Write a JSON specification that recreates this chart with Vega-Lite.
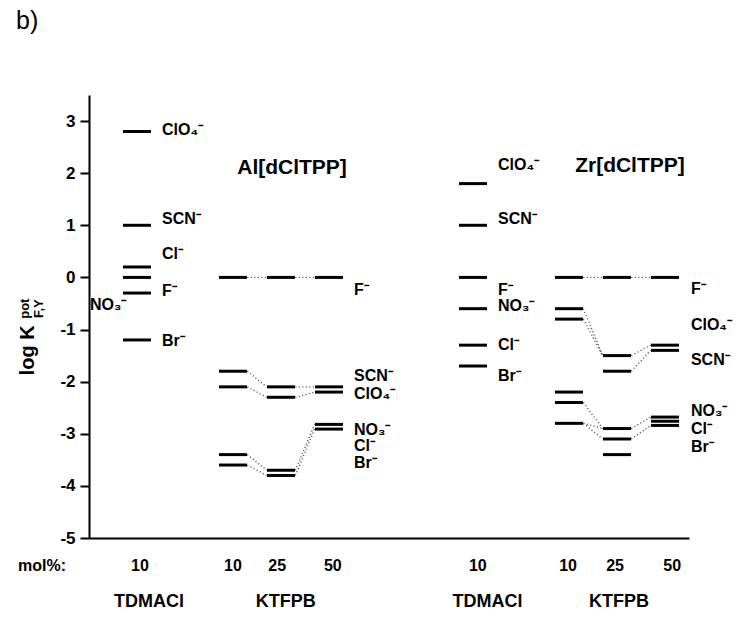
{
  "$schema": "https://vega.github.io/schema/vega-lite/v6.json",
  "autosize": "none",
  "width": 600,
  "height": 443,
  "padding": {"left": 89, "top": 95, "right": 61, "bottom": 82},
  "background": "white",
  "config": {"view": {"stroke": null}, "font": "Liberation Sans"},
  "datasets": {
    "bars": [
      {"panel": "Al", "col": "TDMACl 10", "x": 1, "y": 2.8, "ion": "ClO4"},
      {"panel": "Al", "col": "TDMACl 10", "x": 1, "y": 1.0, "ion": "SCN"},
      {"panel": "Al", "col": "TDMACl 10", "x": 1, "y": 0.2, "ion": "Cl"},
      {"panel": "Al", "col": "TDMACl 10", "x": 1, "y": 0.0, "ion": "F"},
      {"panel": "Al", "col": "TDMACl 10", "x": 1, "y": -0.3, "ion": "NO3"},
      {"panel": "Al", "col": "TDMACl 10", "x": 1, "y": -1.2, "ion": "Br"},
      {"panel": "Al", "col": "KTFPB 10", "x": 3, "y": 0.0, "ion": "F"},
      {"panel": "Al", "col": "KTFPB 10", "x": 3, "y": -1.8, "ion": "SCN"},
      {"panel": "Al", "col": "KTFPB 10", "x": 3, "y": -2.1, "ion": "ClO4"},
      {"panel": "Al", "col": "KTFPB 10", "x": 3, "y": -3.4, "ion": "NO3"},
      {"panel": "Al", "col": "KTFPB 10", "x": 3, "y": -3.6, "ion": "Cl/Br"},
      {"panel": "Al", "col": "KTFPB 25", "x": 4, "y": 0.0, "ion": "F"},
      {"panel": "Al", "col": "KTFPB 25", "x": 4, "y": -2.1, "ion": "SCN"},
      {"panel": "Al", "col": "KTFPB 25", "x": 4, "y": -2.3, "ion": "ClO4"},
      {"panel": "Al", "col": "KTFPB 25", "x": 4, "y": -3.7, "ion": "NO3"},
      {"panel": "Al", "col": "KTFPB 25", "x": 4, "y": -3.8, "ion": "Cl/Br"},
      {"panel": "Al", "col": "KTFPB 50", "x": 5, "y": 0.0, "ion": "F"},
      {"panel": "Al", "col": "KTFPB 50", "x": 5, "y": -2.1, "ion": "SCN"},
      {"panel": "Al", "col": "KTFPB 50", "x": 5, "y": -2.2, "ion": "ClO4"},
      {"panel": "Al", "col": "KTFPB 50", "x": 5, "y": -2.82, "ion": "NO3"},
      {"panel": "Al", "col": "KTFPB 50", "x": 5, "y": -2.91, "ion": "Cl/Br"},
      {"panel": "Zr", "col": "TDMACl 10", "x": 8, "y": 1.8, "ion": "ClO4"},
      {"panel": "Zr", "col": "TDMACl 10", "x": 8, "y": 1.0, "ion": "SCN"},
      {"panel": "Zr", "col": "TDMACl 10", "x": 8, "y": 0.0, "ion": "F"},
      {"panel": "Zr", "col": "TDMACl 10", "x": 8, "y": -0.6, "ion": "NO3"},
      {"panel": "Zr", "col": "TDMACl 10", "x": 8, "y": -1.3, "ion": "Cl"},
      {"panel": "Zr", "col": "TDMACl 10", "x": 8, "y": -1.7, "ion": "Br"},
      {"panel": "Zr", "col": "KTFPB 10", "x": 10, "y": 0.0, "ion": "F"},
      {"panel": "Zr", "col": "KTFPB 10", "x": 10, "y": -0.6, "ion": "ClO4"},
      {"panel": "Zr", "col": "KTFPB 10", "x": 10, "y": -0.8, "ion": "SCN"},
      {"panel": "Zr", "col": "KTFPB 10", "x": 10, "y": -2.2, "ion": "NO3"},
      {"panel": "Zr", "col": "KTFPB 10", "x": 10, "y": -2.4, "ion": "Cl"},
      {"panel": "Zr", "col": "KTFPB 10", "x": 10, "y": -2.8, "ion": "Br"},
      {"panel": "Zr", "col": "KTFPB 25", "x": 11, "y": 0.0, "ion": "F"},
      {"panel": "Zr", "col": "KTFPB 25", "x": 11, "y": -1.5, "ion": "ClO4"},
      {"panel": "Zr", "col": "KTFPB 25", "x": 11, "y": -1.8, "ion": "SCN"},
      {"panel": "Zr", "col": "KTFPB 25", "x": 11, "y": -2.9, "ion": "NO3"},
      {"panel": "Zr", "col": "KTFPB 25", "x": 11, "y": -3.1, "ion": "Cl"},
      {"panel": "Zr", "col": "KTFPB 25", "x": 11, "y": -3.4, "ion": "Br"},
      {"panel": "Zr", "col": "KTFPB 50", "x": 12, "y": 0.0, "ion": "F"},
      {"panel": "Zr", "col": "KTFPB 50", "x": 12, "y": -1.3, "ion": "ClO4"},
      {"panel": "Zr", "col": "KTFPB 50", "x": 12, "y": -1.4, "ion": "SCN"},
      {"panel": "Zr", "col": "KTFPB 50", "x": 12, "y": -2.68, "ion": "NO3"},
      {"panel": "Zr", "col": "KTFPB 50", "x": 12, "y": -2.76, "ion": "Cl"},
      {"panel": "Zr", "col": "KTFPB 50", "x": 12, "y": -2.84, "ion": "Br"}
    ],
    "links": [
      {"x1": 3.3, "y1": 0.0, "x2": 3.7, "y2": 0.0},
      {"x1": 4.3, "y1": 0.0, "x2": 4.7, "y2": 0.0},
      {"x1": 3.3, "y1": -1.8, "x2": 3.7, "y2": -2.1},
      {"x1": 3.3, "y1": -2.1, "x2": 3.7, "y2": -2.3},
      {"x1": 4.3, "y1": -2.1, "x2": 4.7, "y2": -2.1},
      {"x1": 4.3, "y1": -2.3, "x2": 4.7, "y2": -2.2},
      {"x1": 3.3, "y1": -3.4, "x2": 3.7, "y2": -3.7},
      {"x1": 3.3, "y1": -3.6, "x2": 3.7, "y2": -3.8},
      {"x1": 4.3, "y1": -3.7, "x2": 4.7, "y2": -2.82},
      {"x1": 4.3, "y1": -3.8, "x2": 4.7, "y2": -2.91},
      {"x1": 10.3, "y1": 0.0, "x2": 10.7, "y2": 0.0},
      {"x1": 11.3, "y1": 0.0, "x2": 11.7, "y2": 0.0},
      {"x1": 10.3, "y1": -0.6, "x2": 10.7, "y2": -1.5},
      {"x1": 10.3, "y1": -0.8, "x2": 10.7, "y2": -1.5},
      {"x1": 11.3, "y1": -1.5, "x2": 11.7, "y2": -1.3},
      {"x1": 11.3, "y1": -1.8, "x2": 11.7, "y2": -1.4},
      {"x1": 10.3, "y1": -2.4, "x2": 10.7, "y2": -2.9},
      {"x1": 10.3, "y1": -2.8, "x2": 10.7, "y2": -2.9},
      {"x1": 10.3, "y1": -2.8, "x2": 10.7, "y2": -3.1},
      {"x1": 11.3, "y1": -2.9, "x2": 11.7, "y2": -2.68},
      {"x1": 11.3, "y1": -3.1, "x2": 11.7, "y2": -2.84}
    ],
    "ionLabels": [
      {"text": "ClO₄⁻", "x": 1.52, "y": 2.82},
      {"text": "SCN⁻", "x": 1.52, "y": 1.13},
      {"text": "Cl⁻", "x": 1.52, "y": 0.45},
      {"text": "F⁻", "x": 1.52, "y": -0.27},
      {"text": "NO₃⁻", "x": 0.02, "y": -0.53},
      {"text": "Br⁻", "x": 1.52, "y": -1.22},
      {"text": "F⁻", "x": 5.52, "y": -0.24},
      {"text": "SCN⁻", "x": 5.52, "y": -1.9},
      {"text": "ClO₄⁻", "x": 5.52, "y": -2.24},
      {"text": "NO₃⁻", "x": 5.52, "y": -2.92},
      {"text": "Cl⁻", "x": 5.52, "y": -3.23},
      {"text": "Br⁻", "x": 5.52, "y": -3.57},
      {"text": "ClO₄⁻", "x": 8.52, "y": 2.15},
      {"text": "SCN⁻", "x": 8.52, "y": 1.13},
      {"text": "F⁻", "x": 8.52, "y": -0.24},
      {"text": "NO₃⁻", "x": 8.52, "y": -0.55},
      {"text": "Cl⁻", "x": 8.52, "y": -1.3},
      {"text": "Br⁻", "x": 8.52, "y": -1.9},
      {"text": "F⁻", "x": 12.54, "y": -0.22},
      {"text": "ClO₄⁻", "x": 12.54, "y": -0.91},
      {"text": "SCN⁻", "x": 12.54, "y": -1.58},
      {"text": "NO₃⁻", "x": 12.54, "y": -2.57},
      {"text": "Cl⁻", "x": 12.54, "y": -2.9},
      {"text": "Br⁻", "x": 12.54, "y": -3.26}
    ],
    "panelTitles": [
      {"text": "Al[dClTPP]", "x": 4.23, "y": 2.1},
      {"text": "Zr[dClTPP]", "x": 11.27, "y": 2.13}
    ],
    "molLabels": [
      {"text": "mol%:", "x": -0.98, "y": -5.53},
      {"text": "10", "x": 1.06, "y": -5.53},
      {"text": "10", "x": 3.0, "y": -5.53},
      {"text": "25", "x": 3.92, "y": -5.53},
      {"text": "50", "x": 5.08, "y": -5.53},
      {"text": "10", "x": 8.1, "y": -5.53},
      {"text": "10", "x": 9.98, "y": -5.53},
      {"text": "25", "x": 10.96, "y": -5.53},
      {"text": "50", "x": 12.15, "y": -5.53}
    ],
    "groupLabels": [
      {"text": "TDMACl", "x": 1.25, "y": -6.22},
      {"text": "KTFPB", "x": 4.1, "y": -6.22},
      {"text": "TDMACl", "x": 8.3, "y": -6.22},
      {"text": "KTFPB", "x": 11.04, "y": -6.22}
    ]
  },
  "layer": [
    {
      "data": {"name": "bars"},
      "mark": {"type": "tick", "orient": "horizontal", "size": 28, "thickness": 3, "color": "black", "opacity": 1},
      "encoding": {
        "x": {"field": "x", "type": "quantitative", "scale": {"domain": [0, 12.5], "nice": false, "zero": false},
              "axis": {"title": null, "labels": false, "ticks": false, "grid": false, "domain": true, "domainColor": "black", "domainWidth": 2}},
        "y": {"field": "y", "type": "quantitative", "scale": {"domain": [-5, 3.5], "nice": false, "zero": false},
              "axis": {"title": null, "grid": false, "domain": true, "domainColor": "black", "domainWidth": 2,
                       "values": [-5, -4.5, -4, -3.5, -3, -2.5, -2, -1.5, -1, -0.5, 0, 0.5, 1, 1.5, 2, 2.5, 3, 3.5],
                       "labelExpr": "datum.value % 1 === 0 ? '' + datum.value : ''",
                       "tickColor": "black", "tickWidth": 2,
                       "tickSize": {"condition": {"test": "datum.value % 1 !== 0", "value": 4.5}, "value": 9},
                       "labelPadding": 5, "labelFont": "Liberation Sans", "labelFontSize": 17, "labelFontWeight": "bold", "labelColor": "black"}}
      }
    },
    {
      "data": {"name": "links"},
      "mark": {"type": "rule", "strokeDash": [1, 2.5], "strokeWidth": 1.4, "color": "#444444"},
      "encoding": {
        "x": {"field": "x1", "type": "quantitative"},
        "y": {"field": "y1", "type": "quantitative"},
        "x2": {"field": "x2"},
        "y2": {"field": "y2"}
      }
    },
    {
      "data": {"name": "ionLabels"},
      "mark": {"type": "text", "align": "left", "baseline": "middle", "font": "Liberation Sans", "fontSize": 16, "fontWeight": "bold", "color": "black"},
      "encoding": {
        "x": {"field": "x", "type": "quantitative"},
        "y": {"field": "y", "type": "quantitative"},
        "text": {"field": "text"}
      }
    },
    {
      "data": {"name": "panelTitles"},
      "mark": {"type": "text", "align": "center", "baseline": "middle", "font": "Liberation Sans", "fontSize": 21, "fontWeight": "bold", "color": "black"},
      "encoding": {
        "x": {"field": "x", "type": "quantitative"},
        "y": {"field": "y", "type": "quantitative"},
        "text": {"field": "text"}
      }
    },
    {
      "data": {"name": "molLabels"},
      "mark": {"type": "text", "align": "center", "baseline": "middle", "font": "Liberation Sans", "fontSize": 16, "fontWeight": "bold", "color": "black"},
      "encoding": {
        "x": {"field": "x", "type": "quantitative"},
        "y": {"field": "y", "type": "quantitative"},
        "text": {"field": "text"}
      }
    },
    {
      "data": {"name": "groupLabels"},
      "mark": {"type": "text", "align": "center", "baseline": "middle", "font": "Liberation Sans", "fontSize": 18, "fontWeight": "bold", "color": "black"},
      "encoding": {
        "x": {"field": "x", "type": "quantitative"},
        "y": {"field": "y", "type": "quantitative"},
        "text": {"field": "text"}
      }
    },
    {
      "data": {"values": [{"text": "b)"}]},
      "mark": {"type": "text", "align": "left", "baseline": "alphabetic", "font": "Liberation Sans", "fontSize": 25, "fontWeight": "normal", "color": "black"},
      "encoding": {
        "x": {"datum": -1.52, "type": "quantitative"},
        "y": {"datum": 4.757, "type": "quantitative"},
        "text": {"field": "text"}
      }
    },
    {
      "data": {"values": [{"text": "log K"}]},
      "mark": {"type": "text", "align": "center", "baseline": "alphabetic", "angle": 270, "font": "Liberation Sans", "fontSize": 20, "fontWeight": "bold", "color": "black"},
      "encoding": {
        "x": {"datum": -1.146, "type": "quantitative"},
        "y": {"datum": -1.4, "type": "quantitative"},
        "text": {"field": "text"}
      }
    },
    {
      "data": {"values": [{"text": "pot"}]},
      "mark": {"type": "text", "align": "center", "baseline": "alphabetic", "angle": 270, "font": "Liberation Sans", "fontSize": 13, "fontWeight": "bold", "color": "black"},
      "encoding": {
        "x": {"datum": -1.25, "type": "quantitative"},
        "y": {"datum": -0.6, "type": "quantitative"},
        "text": {"field": "text"}
      }
    },
    {
      "data": {"values": [{"text": "F,Y"}]},
      "mark": {"type": "text", "align": "center", "baseline": "alphabetic", "angle": 270, "font": "Liberation Sans", "fontSize": 13, "fontWeight": "bold", "color": "black"},
      "encoding": {
        "x": {"datum": -0.96, "type": "quantitative"},
        "y": {"datum": -0.6, "type": "quantitative"},
        "text": {"field": "text"}
      }
    }
  ]
}
